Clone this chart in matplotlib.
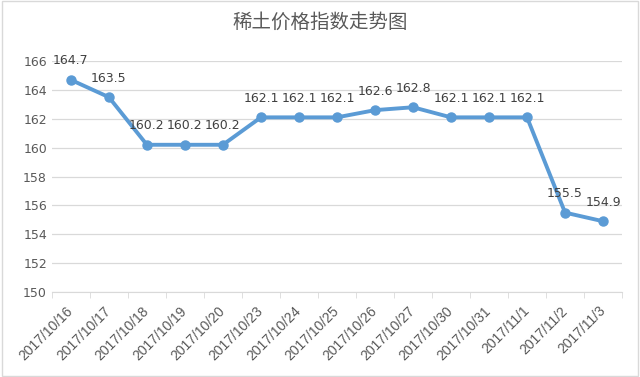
import matplotlib
matplotlib.use("Agg")
import matplotlib.pyplot as plt
import matplotlib.transforms as mtransforms
import numpy as np

plt.rcParams['font.family'] = ['Noto Sans CJK SC', 'DejaVu Sans']

dates = ["2017/10/16", "2017/10/17", "2017/10/18", "2017/10/19", "2017/10/20",
         "2017/10/23", "2017/10/24", "2017/10/25", "2017/10/26", "2017/10/27",
         "2017/10/30", "2017/10/31", "2017/11/1", "2017/11/2", "2017/11/3"]
index_values = [164.7, 163.5, 160.2, 160.2, 160.2, 162.1, 162.1, 162.1,
                162.6, 162.8, 162.1, 162.1, 162.1, 155.5, 154.9]
y_ticks = [150, 152, 154, 156, 158, 160, 162, 164, 166]

fig = plt.figure(figsize=(6.4, 3.77), dpi=100)
ax = fig.add_axes([0.081, 0.2255, 0.891, 0.6125])

x = np.arange(len(dates))
ax.plot(x, index_values, color="#5B9BD5", linewidth=2.8, marker="o",
        markersize=6.5, zorder=3)

for xi, v in zip(x, index_values):
    ax.annotate(f"{v:.1f}", (xi, v), xytext=(0, 9), textcoords="offset points",
                ha="center", va="bottom", fontsize=9, color="#404040",
                family="DejaVu Sans")

ax.set_xlim(-0.5, len(dates) - 0.5)
ax.set_ylim(150, 166)
ax.set_yticks(y_ticks)
ax.set_yticklabels([str(t) for t in y_ticks], family="DejaVu Sans")
ax.set_xticks(x)
ax.set_xticklabels(dates, rotation=45, ha="right", va="center",
                   rotation_mode="anchor", family="Liberation Sans")
shift = mtransforms.ScaledTranslation(0.08, 0, fig.dpi_scale_trans)
for lbl in ax.get_xticklabels():
    lbl.set_transform(lbl.get_transform() + shift)
ax.set_xticks(np.arange(-0.5, len(dates), 1), minor=True)
ax.tick_params(axis="x", which="major", length=0, labelsize=10,
               labelcolor="#595959", pad=12)
ax.tick_params(axis="x", which="minor", length=4, color="#D9D9D9")
ax.tick_params(axis="y", length=0, labelsize=9, labelcolor="#595959")

ax.grid(axis="y", color="#D9D9D9", linewidth=0.9)
ax.set_axisbelow(True)
for side in ["top", "right", "left"]:
    ax.spines[side].set_visible(False)
ax.spines["bottom"].set_color("#D9D9D9")

fig.text(0.5, 0.94, "稀土价格指数走势图", ha="center", va="center",
         fontsize=14, color="#595959")

border = plt.Rectangle((0.003, 0.003), 0.994, 0.994, transform=fig.transFigure,
                       fill=False, edgecolor="#D9D9D9", linewidth=1)
fig.patches.append(border)

fig.savefig("out.png", dpi=100)
